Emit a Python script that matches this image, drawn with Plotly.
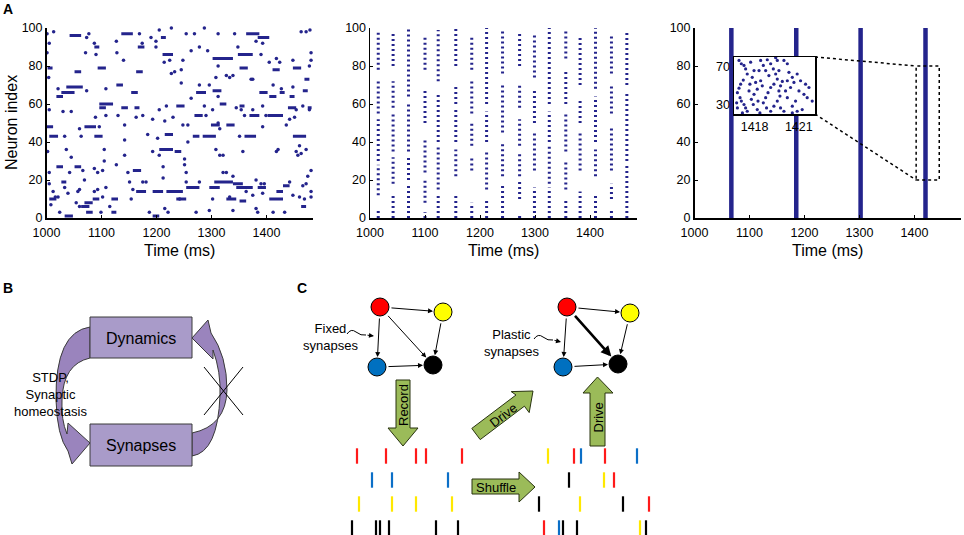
import plotly.graph_objects as go

W, H = 964, 535
NAVY = "#24248c"
FONT = "Liberation Sans, Arial, sans-serif"

# ---------------- Panel A1 data (irregular firing) ----------------
a1_spike_t = [1001, 1001, 1005, 1013, 1004, 1077, 1073, 1087, 1071, 1090, 1127, 1140, 1128, 1169, 1174, 1190, 1199, 1205, 1227, 1199,
              1214, 1224, 1233, 1248, 1254, 1269, 1287, 1263, 1278, 1293, 1312, 1339, 1342, 1348, 1393, 1381, 1390, 1375, 1418, 1405,
              1424, 1463, 1479, 1481, 1481, 1472, 1448, 1312, 1327, 1308, 1073, 1021, 1005, 1030, 1045, 1060, 1063, 1108, 1089, 1096,
              1108, 1130, 1142, 1163, 1175, 1184, 1193, 1202, 1215, 1205, 1218, 1227, 1245, 1245, 1230, 1248, 1257, 1263, 1257, 1287,
              1302, 1290, 1312, 1315, 1296, 1278, 1312, 1333, 1345, 1354, 1360, 1351, 1372, 1375, 1393, 1393, 1399, 1436, 1442, 1451,
              1454, 1466, 1478, 1412, 1427, 1448, 1478, 1002, 1033, 1036, 1045, 1005, 1012, 1005, 1033, 1021, 1039, 1057, 1060, 1069,
              1042, 1066, 1087, 1093, 1102, 1105, 1105, 1087, 1093, 1102, 1108, 1115, 1099, 1127, 1142, 1148, 1151, 1157, 1154, 1142,
              1175, 1181, 1193, 1205, 1212, 1212, 1215, 1221, 1187, 1251, 1254, 1251, 1254, 1242, 1278, 1272, 1296, 1308, 1315, 1321,
              1321, 1327, 1339, 1333, 1339, 1302, 1363, 1375, 1381, 1357, 1381, 1384, 1390, 1393, 1396, 1412, 1433, 1418, 1421, 1442,
              1448, 1454, 1457, 1460, 1469, 1466, 1475, 1481, 1472, 1481, 1481, 1460, 1463, 1472, 1016, 1008, 1024, 1060, 1054]
a1_spike_n = [97, 87, 92, 98, 74, 97, 95, 92, 87, 86, 93, 83, 87, 97, 92, 95, 93, 99, 100, 90,
              82, 83, 77, 83, 97, 97, 100, 88, 90, 88, 97, 75, 97, 90, 92, 93, 86, 73, 84, 82,
              82, 98, 99, 87, 83, 98, 83, 80, 75, 74, 67, 68, 57, 56, 56, 47, 43, 54, 53, 48,
              68, 54, 49, 53, 54, 44, 52, 42, 51, 57, 59, 76, 78, 71, 53, 49, 49, 63, 40, 59,
              57, 54, 50, 47, 70, 70, 64, 74, 58, 57, 54, 43, 73, 57, 59, 48, 54, 49, 52, 53,
              57, 59, 57, 70, 68, 69, 80, 35, 43, 36, 32, 24, 14, 18, 16, 11, 13, 14, 15, 20,
              24, 25, 26, 24, 25, 36, 30, 14, 15, 11, 16, 6, 3, 28, 33, 24, 19, 15, 10, 41,
              19, 19, 35, 33, 27, 21, 5, 3, 3, 28, 24, 31, 19, 10, 19, 3, 4, 36, 33, 33,
              24, 24, 22, 11, 4, 10, 14, 12, 20, 35, 5, 3, 18, 13, 18, 3, 3, 35, 36, 19,
              12, 35, 33, 11, 10, 17, 22, 25, 18, 14, 11, 38, 34, 36, 11, 7, 3, 6, 8]
# short high-rate runs of single neurons (neuron, start, end)
a1_run_n = [97, 96, 97, 95, 95, 90, 90, 86, 84, 86, 79, 77, 79, 77, 79, 79, 78, 73, 64, 66,
            69, 70, 66, 66, 67, 66, 64, 66, 64, 67, 60, 58, 58, 58, 59, 60, 59, 58, 58, 54,
            54, 54, 48, 49, 49, 48, 43, 43, 44, 43, 43, 43, 43, 36, 35, 27, 27, 25, 19, 19,
            18, 14, 14, 14, 16, 16, 16, 16, 14, 17, 10, 10, 10, 10, 10, 9, 10, 6, 8, 3,
            1, 1, 3, 6]
a1_run_t0 = [1136, 1042, 1363, 1384, 1208, 1087, 1166, 1211, 1302, 1348, 1002, 1051, 1093, 1163, 1351, 1448, 1411, 1469, 1018, 1027,
             1036, 1127, 1154, 1272, 1302, 1387, 1405, 1424, 1442, 1466, 1096, 1096, 1136, 1160, 1236, 1315, 1351, 1439, 1475, 1269,
             1369, 1402, 1069, 1299, 1327, 1000, 1005, 1087, 1215, 1266, 1284, 1360, 1448, 1205, 1233, 1018, 1051, 1157, 1027, 1305,
             1339, 1163, 1193, 1218, 1254, 1296, 1345, 1384, 1418, 1430, 1005, 1118, 1084, 1236, 1327, 1351, 1405, 1063, 1069, 1118,
             1033, 1193, 1072, 1463]
a1_run_t1 = [1157, 1063, 1387, 1405, 1217, 1096, 1178, 1230, 1339, 1375, 1011, 1063, 1108, 1175, 1366, 1463, 1424, 1478, 1030, 1051,
             1066, 1139, 1166, 1290, 1318, 1402, 1418, 1433, 1451, 1475, 1121, 1108, 1148, 1169, 1251, 1327, 1360, 1454, 1482, 1284,
             1387, 1430, 1090, 1315, 1342, 1012, 1021, 1102, 1230, 1278, 1308, 1381, 1472, 1230, 1245, 1030, 1063, 1172, 1036, 1339,
             1357, 1181, 1212, 1248, 1278, 1315, 1375, 1399, 1430, 1442, 1018, 1130, 1096, 1254, 1345, 1363, 1430, 1078, 1084, 1127,
             1048, 1205, 1084, 1472]

# ---------------- Panel A2 data (synchronous volleys) ----------------
a2_volley_t = [1015, 1042, 1070, 1100, 1124, 1156, 1185, 1212, 1241, 1272, 1299, 1326, 1356, 1382, 1410, 1439, 1467]
a2_volley_groups = [
    [(78, 99), (55, 72), (30, 52), (12, 28), (0, 4)],
    [(80, 98), (58, 72), (35, 55), (18, 32), (0, 12)],
    [(64, 100), (35, 60), (20, 33), (0, 18)],
    [(78, 96), (50, 68), (24, 42), (8, 20), (0, 3)],
    [(72, 99), (40, 66), (15, 38), (0, 12)],
    [(80, 100), (60, 70), (40, 58), (22, 36), (0, 12)],
    [(78, 96), (55, 72), (38, 50), (25, 32), (0, 8)],
    [(60, 100), (40, 56), (15, 36), (0, 10)],
    [(76, 99), (45, 70), (22, 40), (0, 18)],
    [(80, 98), (58, 70), (38, 52), (22, 35), (10, 20), (0, 2)],
    [(74, 97), (50, 68), (25, 45), (0, 16)],
    [(60, 100), (40, 56), (18, 38), (0, 16)],
    [(84, 99), (60, 78), (35, 55), (15, 30), (0, 10)],
    [(70, 96), (50, 62), (25, 45), (0, 14)],
    [(68, 100), (40, 64), (22, 36), (0, 12)],
    [(76, 97), (55, 70), (25, 48), (10, 18), (0, 4)],
    [(70, 98), (30, 66), (0, 28)],
]

# ---------------- Panel A3 data (population bursts) ----------------
a3_burst_t = [1067, 1185, 1302, 1420]
inset_t = [1416.94, 1417.10, 1417.28, 1417.39, 1417.50, 1417.23, 1417.05, 1416.94, 1416.83, 1417.01, 1417.10, 1417.28, 1417.39,
           1417.50, 1417.17, 1416.83, 1416.78, 1417.73, 1417.96, 1417.84, 1418.07, 1418.18, 1417.96, 1417.78, 1417.91, 1418.18,
           1418.36, 1418.41, 1418.59, 1418.86, 1419.09, 1419.27, 1419.43, 1419.54, 1419.31, 1419.09, 1418.91, 1418.75, 1418.59,
           1418.81, 1419.09, 1419.31, 1419.54, 1419.72, 1419.65, 1419.76, 1419.88, 1419.65, 1419.54, 1419.43, 1420.33, 1420.56,
           1420.67, 1420.44, 1420.89, 1421.12, 1421.01, 1421.35, 1421.57, 1421.91, 1420.78, 1420.56, 1420.89, 1421.23, 1420.22,
           1420.10, 1420.22, 1419.99, 1420.56, 1418.75, 1418.97, 1418.41, 1418.52, 1417.62, 1417.68, 1418.23, 1418.30, 1419.76,
           1419.99, 1421.46, 1421.69, 1420.22]
inset_n = [76.9, 73.4, 71.6, 68.0, 62.6, 56.2, 51.9, 47.7, 43.0, 37.7, 34.1, 30.5, 26.9,
           23.4, 21.6, 26.9, 32.3, 75.1, 66.2, 59.1, 53.7, 46.6, 41.2, 35.9, 30.5, 25.2,
           21.6, 76.9, 71.6, 77.6, 73.4, 68.0, 62.6, 57.3, 51.9, 48.4, 43.0, 37.7, 32.3,
           26.9, 23.4, 28.7, 34.1, 39.4, 44.8, 50.2, 54.8, 66.2, 76.9, 79.8, 64.4, 59.1,
           53.7, 48.4, 62.6, 55.5, 44.8, 41.2, 37.7, 34.1, 34.1, 28.7, 23.4, 25.2, 37.7,
           44.8, 73.4, 76.9, 21.6, 66.2, 60.9, 55.5, 50.2, 44.8, 51.9, 34.1, 66.2, 26.9,
           23.4, 51.9, 48.4, 55.5]
inset_xrange = [1416.6, 1422.1]
inset_yrange = [20.5, 80.5]
zoom_window_t = [1403, 1445]
zoom_window_n = [20, 80]

time_ticks = [1000, 1100, 1200, 1300, 1400]
neuron_ticks = [0, 20, 40, 60, 80, 100]
inset_time_ticks = [1418, 1421]
inset_neuron_ticks = [30, 70]

# ---------------- Panel C schematic spike trains ----------------
RED, BLUE, YEL, BLK = "#ff1a1a", "#0b6fc7", "#ffe800", "#000000"
rec_x = [357, 386, 416, 426, 462, 372, 392, 448, 359, 392, 416, 452, 352, 376, 380, 389, 436, 458]
rec_row = [0, 0, 0, 0, 0, 1, 1, 1, 2, 2, 2, 2, 3, 3, 3, 3, 3, 3]
rec_col = [RED] * 5 + [BLUE] * 3 + [YEL] * 4 + [BLK] * 6
shuf_x = [548, 574, 581, 605, 637, 569, 604, 614, 539, 580, 623, 649, 544, 559, 563, 577, 640, 646]
shuf_row = [0, 0, 0, 0, 0, 1, 1, 1, 2, 2, 2, 2, 3, 3, 3, 3, 3, 3]
shuf_col = [YEL, RED, BLUE, RED, BLUE, BLK, YEL, RED, BLK, YEL, BLK, RED, RED, BLUE, BLK, BLK, YEL, BLK]
row_y = [456, 480, 504, 528]

# ---------------- geometry of panel A ----------------
XR = [1000, 1485]
A_TOP, A_BOT = 28, 218
A_LEFT = [46.5, 370, 694.5]
A_W = 266.75
INSET = dict(x0=734, x1=815, y0=57, y1=114)


def a3_px(t):
    return A_LEFT[2] + (t - XR[0]) / (XR[1] - XR[0]) * A_W


def a3_py(n):
    return A_BOT - n / 100 * (A_BOT - A_TOP)


fig = go.Figure()

# diagram canvas (pixel coordinates), first subplot
fig.add_trace(go.Scatter(x=[0], y=[0], mode="markers", marker=dict(opacity=0), xaxis="x", yaxis="y",
                         showlegend=False, hoverinfo="skip"))

# A1
rx, ry = [], []
for n, t0, t1 in zip(a1_run_n, a1_run_t0, a1_run_t1):
    rx += [t0, t1, None]
    ry += [n, n, None]
fig.add_trace(go.Scatter(x=rx, y=ry, mode="lines", line=dict(color=NAVY, width=3), xaxis="x2", yaxis="y2",
                         showlegend=False, cliponaxis=False))
fig.add_trace(go.Scatter(x=a1_spike_t, y=a1_spike_n, mode="markers", marker=dict(color=NAVY, size=3.5),
                         xaxis="x2", yaxis="y2", showlegend=False, cliponaxis=False))

# A2
vx, vy = [], []
for t, groups in zip(a2_volley_t, a2_volley_groups):
    for n0, n1 in groups:
        vx += [t, t, None]
        vy += [n0, n1, None]
fig.add_trace(go.Scatter(x=vx, y=vy, mode="lines", line=dict(color=NAVY, width=3, dash="2px,3px"),
                         xaxis="x3", yaxis="y3", showlegend=False, cliponaxis=False))

# A3
bx, by = [], []
for t in a3_burst_t:
    bx += [t, t, None]
    by += [0, 100, None]
fig.add_trace(go.Scatter(x=bx, y=by, mode="lines", line=dict(color=NAVY, width=4.5),
                         xaxis="x4", yaxis="y4", showlegend=False))
# inset: white backing then spikes
fig.add_trace(go.Scatter(x=[inset_xrange[0], inset_xrange[1], inset_xrange[1], inset_xrange[0], inset_xrange[0]],
                         y=[inset_yrange[0], inset_yrange[0], inset_yrange[1], inset_yrange[1], inset_yrange[0]],
                         mode="lines", fill="toself", fillcolor="white", line=dict(width=0, color="white"),
                         xaxis="x5", yaxis="y5", showlegend=False, hoverinfo="skip"))
fig.add_trace(go.Scatter(x=inset_t, y=inset_n, mode="markers", marker=dict(color=NAVY, size=3.2),
                         xaxis="x5", yaxis="y5", showlegend=False))

# Panel C nodes
nodes1 = dict(r=(380, 307), y=(443, 312), b=(377, 367), k=(433, 365))
nodes2 = dict(r=(567, 307), y=(630, 313), b=(563, 367), k=(618, 364))
cols = dict(r="#ff0000", y="#ffff00", b="#0070c0", k="#000000")
for nd in (nodes1, nodes2):
    fig.add_trace(go.Scatter(x=[nd[k][0] for k in "rybk"], y=[nd[k][1] for k in "rybk"], mode="markers",
                             marker=dict(size=18, color=[cols[k] for k in "rybk"], line=dict(color="black", width=1)),
                             xaxis="x", yaxis="y", showlegend=False, hoverinfo="skip"))

# spike trains
for xs, rows, cs in ((rec_x, rec_row, rec_col), (shuf_x, shuf_row, shuf_col)):
    fig.add_trace(go.Scatter(x=xs, y=[row_y[r] for r in rows], mode="markers",
                             marker=dict(symbol="line-ns", size=11, line=dict(color=cs, width=2.2)),
                             xaxis="x", yaxis="y", showlegend=False, hoverinfo="skip"))

shapes = []
ann = []

# ---------- panel B ----------
PURPLE = "#a99bc9"
ARROWP = "#9a84bd"
shapes.append(dict(type="path", xref="x", yref="y",
                   path="M 90,327 Q 55,332 56,400 Q 57,436 68,451 L 72,464 L 90,443 L 68,423 L 67,434 Q 61,420 62,400 Q 63,364 90,358 Z",
                   fillcolor=ARROWP, line=dict(color="#3a3a3a", width=1)))
shapes.append(dict(type="path", xref="x", yref="y",
                   path="M 192,433 Q 226,426 227,390 Q 227,356 211,333 L 208,320 L 192,338 L 213,359 L 213,350 Q 221,372 220,395 Q 218,452 192,456 Z",
                   fillcolor=ARROWP, line=dict(color="#3a3a3a", width=1)))
for y0, y1 in ((317, 358), (424, 466)):
    shapes.append(dict(type="rect", xref="x", yref="y", x0=90, x1=192, y0=y0, y1=y1,
                       fillcolor=PURPLE, line=dict(color="#3a3a3a", width=1)))
shapes.append(dict(type="line", xref="x", yref="y", x0=204, y0=367, x1=243, y1=415, line=dict(color="black", width=1)))
shapes.append(dict(type="line", xref="x", yref="y", x0=243, y0=367, x1=204, y1=415, line=dict(color="black", width=1)))

# ---------- panel C green arrows ----------
GREEN = "#9bbb59"
GLINE = "#28330f"
green_paths = [
    "M 396,380 L 410,380 L 410,428 L 418,428 L 403,446 L 388,428 L 396,428 Z",
    "M 590,446 L 605,446 L 605,393 L 613,393 L 597.5,377 L 583,393 L 590,393 Z",
    "M 472,479 L 519,479 L 519,472 L 535,487 L 519,502 L 519,494 L 472,494 Z",
    "M 471.8,428.4 L 516.0,395.0 L 511.2,391.6 L 533,391 L 529.2,412.6 L 524.4,406.2 L 480.2,439.6 Z",
]
for p in green_paths:
    shapes.append(dict(type="path", xref="x", yref="y", path=p, fillcolor=GREEN, line=dict(color=GLINE, width=1)))

# squiggly pointer lines
shapes.append(dict(type="path", xref="x", yref="y", path="M 347,334 Q 351,328 356,332 Q 361,336 366,335",
                   line=dict(color="black", width=1)))
shapes.append(dict(type="path", xref="x", yref="y", path="M 534,339 Q 538,333 543,337 Q 548,341 553,340",
                   line=dict(color="black", width=1)))

# zoom window + connectors in A3
shapes.append(dict(type="rect", xref="x4", yref="y4", x0=zoom_window_t[0], x1=zoom_window_t[1],
                   y0=zoom_window_n[0], y1=zoom_window_n[1], line=dict(color="black", width=1.5, dash="dot")))
shapes.append(dict(type="line", xref="x", yref="y", x0=INSET["x1"], y0=INSET["y0"],
                   x1=a3_px(zoom_window_t[0]), y1=a3_py(zoom_window_n[1]), line=dict(color="black", width=1.5, dash="dot")))
shapes.append(dict(type="line", xref="x", yref="y", x0=INSET["x1"], y0=INSET["y1"],
                   x1=a3_px(zoom_window_t[0]), y1=a3_py(zoom_window_n[0]), line=dict(color="black", width=1.5, dash="dot")))


def txt(x, y, s, size=13, angle=0, bold=False):
    ann.append(dict(x=x, y=y, xref="x", yref="y", text=("<b>%s</b>" % s) if bold else s, showarrow=False,
                    textangle=angle, font=dict(size=size, color="black", family=FONT), xanchor="center", yanchor="middle"))


def arrow(p0, p1, width=1.0, size=1.0, s0=10, s1=10, head=2):
    ann.append(dict(x=p1[0], y=p1[1], ax=p0[0], ay=p0[1], xref="x", yref="y", axref="x", ayref="y", text="",
                    showarrow=True, arrowhead=head, arrowsize=size, arrowwidth=width, arrowcolor="black",
                    standoff=s1, startstandoff=s0))


txt(8, 9, "A", 14, bold=True)
txt(8, 288, "B", 14, bold=True)
txt(302, 288, "C", 14, bold=True)
txt(11, 123, "Neuron index", 16, angle=-90)
for left in A_LEFT:
    txt(left + A_W / 2, 250, "Time (ms)", 16)
txt(141, 338, "Dynamics", 16)
txt(141, 445, "Synapses", 16)
txt(50, 394, "STDP,<br>Synaptic<br>homeostasis", 13)
txt(330, 337, "Fixed<br>synapses", 13)
txt(511, 343, "Plastic<br>synapses", 13)
txt(403, 405, "Record", 13, angle=-90)
txt(597.5, 418, "Drive", 13, angle=-90)
txt(503, 415, "Drive", 13, angle=-37)
txt(496, 487, "Shuffle", 13)

for nd, thick in ((nodes1, False), (nodes2, True)):
    arrow(nd["r"], nd["y"])
    arrow(nd["r"], nd["b"])
    arrow(nd["r"], nd["k"], width=2.6 if thick else 1.0, size=0.8 if thick else 1.0)
    arrow(nd["y"], nd["k"])
    arrow(nd["b"], nd["k"])
arrow((366, 335), (374, 336), s0=0, s1=0)
arrow((553, 340), (561, 342), s0=0, s1=0)

axis_common = dict(showline=True, linecolor="black", linewidth=1.5, ticks="inside", ticklen=3, tickwidth=1,
                   tickcolor="black", showgrid=False, zeroline=False, tickfont=dict(size=12.5, color="black", family=FONT),
                   fixedrange=True, automargin=False)
ydom = [1 - A_BOT / H, 1 - A_TOP / H]
layout = dict(
    template="none",
    width=W, height=H, autosize=False, margin=dict(l=0, r=0, t=0, b=0, pad=0, autoexpand=False),
    paper_bgcolor="white", plot_bgcolor="white",
    font=dict(family=FONT, color="black"), showlegend=False,
    xaxis=dict(domain=[0, 1], range=[0, W], visible=False, fixedrange=True, automargin=False),
    yaxis=dict(domain=[0, 1], range=[H, 0], visible=False, fixedrange=True, automargin=False),
    shapes=shapes, annotations=ann,
)
for i, left in enumerate(A_LEFT):
    k = i + 2
    layout["xaxis%d" % k] = dict(domain=[left / W, (left + A_W) / W], anchor="y%d" % k, range=XR,
                                 tickvals=time_ticks, ticklabelstandoff=2, **axis_common)
    layout["yaxis%d" % k] = dict(domain=ydom, anchor="x%d" % k, range=[0, 100], tickvals=neuron_ticks, **axis_common)
inset_axis = dict(axis_common)
inset_axis.update(mirror=True, ticks="")
layout["xaxis5"] = dict(domain=[INSET["x0"] / W, INSET["x1"] / W], anchor="y5", range=inset_xrange,
                        tickvals=inset_time_ticks, **inset_axis)
layout["yaxis5"] = dict(domain=[1 - INSET["y1"] / H, 1 - INSET["y0"] / H], anchor="x5", range=inset_yrange,
                        tickvals=inset_neuron_ticks, **inset_axis)

fig.update_layout(**layout)
fig.write_html("out.html", config={"displayModeBar": False, "staticPlot": True},
               post_script="document.body.style.margin='0';document.body.style.padding='0';")
